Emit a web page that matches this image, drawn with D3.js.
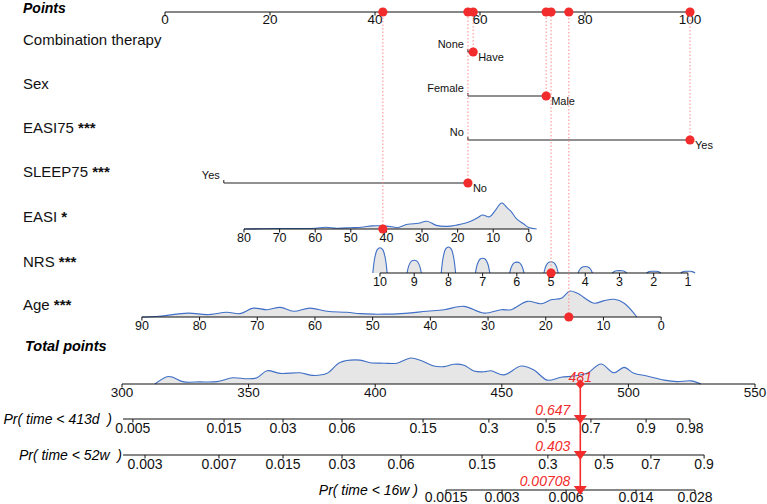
<!DOCTYPE html>
<html>
<head>
<meta charset="utf-8">
<script src="https://cdn.jsdelivr.net/npm/d3@7"></script>
<style>
  body { margin: 0; background: #fff; }
  text { font-family: "Liberation Sans", Arial, sans-serif; white-space: pre; }
</style>
</head>
<body>
<div id="nomogram"></div>
<script>
// nomogram values

var pointTicks = [0, 20, 40, 60, 80, 100];

var comboLevels = ["None", "Have"];
var comboPoints = [57.7, 58.7];
var sexLevels = ["Female", "Male"];
var sexPoints = [57.7, 72.6];
var easi75Levels = ["No", "Yes"];
var easi75Points = [57.7, 100];
var sleep75Levels = ["Yes", "No"];
var sleep75Points = [11.2, 57.7];

var easiTicks = [80, 70, 60, 50, 40, 30, 20, 10, 0];
var easiDomain = [0, 80];
var easiPointRange = [69.3, 15.05];
var nrsTicks = [10, 9, 8, 7, 6, 5, 4, 3, 2, 1];
var nrsDomain = [1, 10];
var nrsPointRange = [99.6, 40.95];
var ageTicks = [90, 80, 70, 60, 50, 40, 30, 20, 10, 0];
var ageDomain = [0, 90];
var agePointRange = [94.5, -4.4];

// densities (value, relative density)
var easiDensity = [[80,0],[75,0.01],[70,0.02],[65,0.02],[60,0.03],[57,0.07],[54,0.03],[50,0.05],[47,0.07],
  [44,0.12],[41,0.12],[38,0.08],[37,0.05],[34,0.18],[31,0.22],[28.6,0.3],[26,0.14],[23,0.1],[20,0.16],
  [18,0.22],[16,0.32],[14.5,0.42],[13,0.54],[11,0.47],[9.5,0.7],[7.6,1.0],[6,0.8],[5,0.68],[3.5,0.4],
  [1.5,0.2],[0,0.06],[-2.2,0]];
var nrsDensity = [[10,0.97],[9,0.49],[8,1.0],[7,0.57],[6,0.42],[5,0.43],[4,0.25],[3,0.09],[2,0.07],[1,0.07]];
var ageDensity = [[90,0],[87,0.03],[82,0.15],[78.7,0.09],[75.3,0.18],[73,0.13],[70.7,0.34],[68.3,0.28],
  [66,0.37],[63.7,0.22],[60.9,0.34],[57.9,0.22],[54.5,0.18],[52.2,0.13],[49.9,0.11],[48,0.11],[45.8,0.12],
  [40.6,0.22],[37.6,0.28],[34.2,0.41],[30.7,0.15],[27.7,0.28],[26,0.28],[23.2,0.6],[20.8,0.51],[19.1,0.66],
  [17.3,0.72],[15.8,1.0],[14.5,0.91],[11.6,0.53],[9.9,0.63],[8.1,0.68],[6.4,0.53],[4.2,0]];
var totalDensity = [[313,0],[317.8,0.28],[320.1,0.26],[324,0.09],[330.8,0.08],[337.5,0.09],[343.8,0.24],
  [349.4,0.2],[353.3,0.24],[357.3,0.51],[362.4,0.41],[370.3,0.43],[375.4,0.33],[381,0.41],[386.1,0.83],
  [394,0.92],[398,0.82],[403.5,0.8],[408.6,0.8],[414.1,1.0],[418.1,0.9],[423.2,0.69],[427.2,0.67],
  [431.1,0.76],[435.1,0.72],[439,0.5],[443,0.47],[445.7,0.51],[450.9,0.35],[457.6,0.69],[462.7,0.54],
  [467.9,0.15],[473.4,0.26],[478.5,0.31],[483.6,0.41],[489.2,0.77],[494.3,0.43],[498.3,0.64],[502.2,0.41],
  [507.3,0.31],[514.1,0.15],[519.2,0.09],[524.7,0.12],[528.7,0]];

var totalTicks = [300, 350, 400, 450, 500, 550];
var p413Labels = ["0.005","0.015","0.03","0.06","0.15","0.3","0.5","0.7","0.9","0.98"];
var p413At = [304.3, 340.3, 363.6, 386.9, 418.9, 444.9, 467.5, 485.2, 507.0, 524.3];
var p52Labels = ["0.003","0.007","0.015","0.03","0.06","0.15","0.3","0.5","0.7","0.9"];
var p52At = [309.1, 338.3, 363.6, 386.9, 410.2, 442.2, 468.2, 490.4, 508.9, 529.9];
var p16Labels = ["0.0015","0.003","0.006","0.014","0.028"];
var p16At = [428.0, 450.1, 475.4, 503.0, 526.3];

// the highlighted patient
var patient = {combo: "Have", sex: "Male", easi75: "Yes", sleep75: "No", easi: 41, nrs: 5, age: 16};
var patientTotal = 481;
var patientProbs = ["0.647", "0.403", "0.00708"];

var red = "#f22c2c";
var dotRed = "#ff8c8c";
var blue = "#3f6fc6";

var svg = d3.select("#nomogram")
    .append("svg")
    .attr("width", 767)
    .attr("height", 504);

// scales
var pointsX = d3.scaleLinear().domain([0, 100]).range([165, 690]);
var totalX = d3.scaleLinear().domain([300, 550]).range([122, 755]);
var easiPts = d3.scaleLinear().domain(easiDomain).range(easiPointRange);
var nrsPts = d3.scaleLinear().domain(nrsDomain).range(nrsPointRange);
var agePts = d3.scaleLinear().domain(ageDomain).range(agePointRange);
var densH = d3.scaleLinear().domain([0, 1]).range([0, 26]);

var rowY = {points: 12, combo: 52, sex: 96, easi75: 140, sleep75: 183, easi: 229, nrs: 273, age: 317,
            total: 384, p413: 419, p52: 455, p16: 490};

// row labels
function rowLabel(y, name, stars) {
    var t = svg.append("text")
        .attr("x", 23).attr("y", y)
        .attr("font-size", 15)
        .attr("fill", "#111")
        .text(name);
    if (stars) {
        t.append("tspan").attr("font-weight", "bold").text(" " + stars);
    }
}
svg.append("text").attr("x", 23).attr("y", 13)
    .attr("font-size", 14).attr("font-weight", "bold").attr("font-style", "italic")
    .text("Points");
rowLabel(45, "Combination therapy");
rowLabel(89, "Sex");
rowLabel(133, "EASI75", "***");
rowLabel(177, "SLEEP75", "***");
rowLabel(222, "EASI", "*");
rowLabel(267, "NRS", "***");
rowLabel(310, "Age", "***");
svg.append("text").attr("x", 25).attr("y", 351)
    .attr("font-size", 14.5).attr("font-weight", "bold").attr("font-style", "italic")
    .text("Total points");

// density helper
function density(data, xOf, y) {
    var area = d3.area()
        .x(function (d) { return xOf(d[0]); })
        .y0(y)
        .y1(function (d) { return y - densH(d[1]); })
        .curve(d3.curveCatmullRom);
    var line = d3.line()
        .x(function (d) { return xOf(d[0]); })
        .y(function (d) { return y - densH(d[1]); })
        .curve(d3.curveCatmullRom);
    svg.append("path").datum(data).attr("d", area).attr("fill", "#e6e6e6");
    svg.append("path").datum(data).attr("d", line)
        .attr("fill", "none").attr("stroke", blue).attr("stroke-width", 1.1);
}

var easiX = function (v) { return pointsX(easiPts(v)); };
var nrsX = function (v) { return pointsX(nrsPts(v)); };
var ageX = function (v) { return pointsX(agePts(v)); };

density(easiDensity, easiX, rowY.easi);
density(ageDensity, ageX, rowY.age);
density(totalDensity, totalX, rowY.total);

// NRS is discrete: one bump per level
nrsDensity.forEach(function (d) {
    var v = d[0], h = d[1];
    density([[v + 0.21, 0], [v + 0.15, 0.62 * h], [v + 0.08, 0.93 * h], [v, h],
             [v - 0.08, 0.93 * h], [v - 0.15, 0.62 * h], [v - 0.21, 0]], nrsX, rowY.nrs);
});

// continuous axes
function contAxis(ticks, xOf, y, size, dy) {
    var x0 = d3.min(ticks, xOf), x1 = d3.max(ticks, xOf);
    svg.append("line").attr("x1", x0).attr("x2", x1).attr("y1", y).attr("y2", y)
        .attr("stroke", "#111").attr("stroke-width", 1.2);
    var g = svg.append("g");
    g.selectAll("line").data(ticks).join("line")
        .attr("x1", xOf).attr("x2", xOf).attr("y1", y).attr("y2", y + 3.5)
        .attr("stroke", "#111");
    g.selectAll("text").data(ticks).join("text")
        .attr("x", xOf).attr("y", y + dy)
        .attr("text-anchor", "middle").attr("font-size", size).attr("fill", "#111")
        .text(function (d) { return d; });
}

contAxis(pointTicks, pointsX, rowY.points, 13.5, 11.5);
contAxis(easiTicks, easiX, rowY.easi, 12.5, 13);
contAxis(nrsTicks, nrsX, rowY.nrs, 12.5, 13);
contAxis(ageTicks, ageX, rowY.age, 12.5, 12.5);
contAxis(totalTicks, totalX, rowY.total, 13.5, 13);

// probability axes
function probAxis(at, labels, y, title, lineStart, titleEnd, dy) {
    svg.append("line").attr("x1", lineStart).attr("x2", totalX(d3.max(at)))
        .attr("y1", y).attr("y2", y).attr("stroke", "#111").attr("stroke-width", 1.2);
    var g = svg.append("g");
    g.selectAll("line").data(at).join("line")
        .attr("x1", totalX).attr("x2", totalX).attr("y1", y).attr("y2", y + 3.5)
        .attr("stroke", "#111");
    g.selectAll("text").data(at).join("text")
        .attr("x", totalX).attr("y", y + dy)
        .attr("text-anchor", "middle").attr("font-size", 14).attr("fill", "#111")
        .text(function (d, i) { return labels[i]; });
    svg.append("text").attr("x", titleEnd).attr("y", y + 5)
        .attr("text-anchor", "end").attr("font-size", 14).attr("font-style", "italic")
        .text(title);
}
probAxis(p413At, p413Labels, rowY.p413, "Pr( time < 413d  )", totalX(300.4), 112, 14);
probAxis(p52At, p52Labels, rowY.p52, "Pr( time < 52w  )", totalX(300.4), 122, 14);
probAxis(p16At, p16Labels, rowY.p16, "Pr( time < 16w )", totalX(p16At[0]), 418, 12);

// categorical axes
function catAxis(levels, pts, y) {
    var xs = pts.map(pointsX);
    svg.append("line").attr("x1", d3.min(xs)).attr("x2", d3.max(xs)).attr("y1", y).attr("y2", y)
        .attr("stroke", "#222").attr("stroke-width", 1.2);
    xs.forEach(function (x) {
        svg.append("line").attr("x1", x).attr("x2", x).attr("y1", y).attr("y2", y - 3)
            .attr("stroke", "#222");
    });
    svg.append("text").attr("x", xs[0] - 4).attr("y", y - 4)
        .attr("text-anchor", "end").attr("font-size", 11).attr("fill", "#111")
        .text(levels[0]);
    svg.append("text").attr("x", xs[1] + 5).attr("y", y + 9)
        .attr("font-size", 11).attr("fill", "#111")
        .text(levels[1]);
}
catAxis(comboLevels, comboPoints, rowY.combo);
catAxis(sexLevels, sexPoints, rowY.sex);
catAxis(easi75Levels, easi75Points, rowY.easi75);
catAxis(sleep75Levels, sleep75Points, rowY.sleep75);

// patient's points per variable
var marks = [
    {pts: comboPoints[comboLevels.indexOf(patient.combo)], y: rowY.combo},
    {pts: sexPoints[sexLevels.indexOf(patient.sex)], y: rowY.sex},
    {pts: easi75Points[easi75Levels.indexOf(patient.easi75)], y: rowY.easi75},
    {pts: sleep75Points[sleep75Levels.indexOf(patient.sleep75)], y: rowY.sleep75},
    {pts: easiPts(patient.easi), y: rowY.easi},
    {pts: nrsPts(patient.nrs), y: rowY.nrs},
    {pts: agePts(patient.age), y: rowY.age}
];

svg.append("g").selectAll("line").data(marks).join("line")
    .attr("x1", function (d) { return pointsX(d.pts); })
    .attr("x2", function (d) { return pointsX(d.pts); })
    .attr("y1", function (d) { return d.y; })
    .attr("y2", rowY.points)
    .attr("stroke", dotRed).attr("stroke-width", 1).attr("stroke-dasharray", "1.5,2");

svg.append("g").selectAll("circle").data(marks).join("circle")
    .attr("cx", function (d) { return pointsX(d.pts); })
    .attr("cy", function (d) { return d.y; })
    .attr("r", 4.6).attr("fill", red);

svg.append("g").selectAll("circle").data(marks).join("circle")
    .attr("cx", function (d) { return pointsX(d.pts); })
    .attr("cy", rowY.points)
    .attr("r", 4.6).attr("fill", red);

// total points marker and predicted probabilities
var tx = totalX(patientTotal);
svg.append("line").attr("x1", tx).attr("x2", tx).attr("y1", rowY.total).attr("y2", rowY.p16)
    .attr("stroke", red).attr("stroke-width", 1.6);
svg.append("path")
    .attr("d", d3.symbol().type(d3.symbolDiamond2).size(55)())
    .attr("transform", "translate(" + tx + "," + rowY.total + ")")
    .attr("fill", red);
svg.append("text").attr("x", tx).attr("y", rowY.total - 2)
    .attr("text-anchor", "middle").attr("font-size", 14).attr("font-style", "italic")
    .attr("fill", red).text(patientTotal);

[rowY.p413, rowY.p52, rowY.p16].forEach(function (y, i) {
    svg.append("path")
        .attr("d", "M" + (tx - 6.5) + "," + (y - 4) + "L" + (tx + 6.5) + "," + (y - 4) + "L" + tx + "," + (y + 5) + "Z")
        .attr("fill", red);
    svg.append("text").attr("x", tx - 10).attr("y", y - 4)
        .attr("text-anchor", "end").attr("font-size", 14).attr("font-style", "italic")
        .attr("fill", red).text(patientProbs[i]);
});
</script>
</body>
</html>
